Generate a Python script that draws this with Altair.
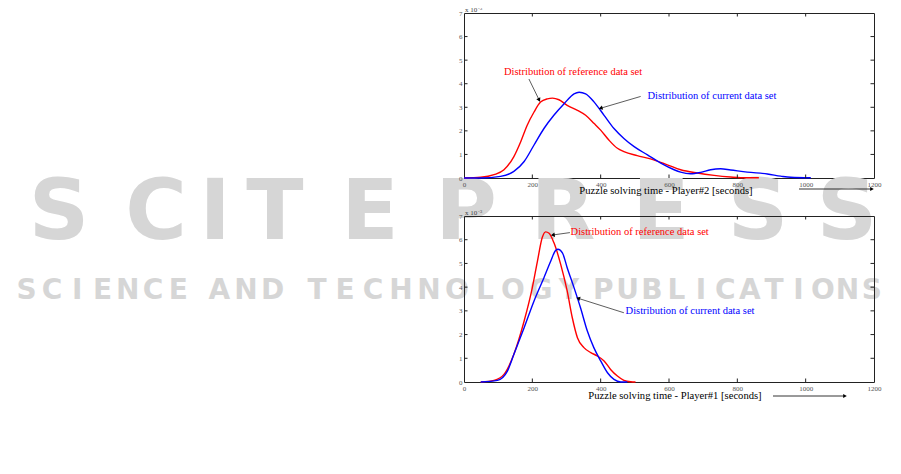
import math
import altair as alt
import pandas as pd

# ---------------- data ----------------
X_TICKS = [0, 200, 400, 600, 800, 1000, 1200]
Y_TICKS = [0, 1, 2, 3, 4, 5, 6, 7]
X_MAX = 1200
Y_MAX = 7

# Player#2 (top panel)
p2_ref_x = [0, 49, 88, 117, 146, 166, 185, 205, 224, 244, 259, 278, 302, 332, 356, 381, 400, 424,
            449, 468, 507, 546, 595, 634, 683, 732, 780, 810, 863]
p2_ref_y = [0.0, 0.03, 0.14, 0.35, 0.91, 1.54, 2.24, 2.8, 3.22, 3.36, 3.39, 3.32, 3.08, 2.87, 2.66,
            2.31, 2.03, 1.61, 1.26, 1.12, 0.95, 0.81, 0.56, 0.35, 0.21, 0.11, 0.04, 0.01, 0.01]
p2_cur_x = [0, 49, 107, 146, 176, 205, 234, 263, 293, 322, 337, 356, 381, 410, 439, 468, 498, 537,
            576, 615, 634, 663, 693, 722, 751, 780, 829, 888, 927, 956, 1015]
p2_cur_y = [0.0, 0.0, 0.07, 0.28, 0.7, 1.4, 2.1, 2.66, 3.15, 3.57, 3.64, 3.57, 3.22, 2.66, 2.1, 1.68,
            1.33, 0.98, 0.63, 0.35, 0.25, 0.18, 0.24, 0.35, 0.39, 0.34, 0.25, 0.17, 0.08, 0.03, 0.01]

# Player#1 (bottom panel)
p1_ref_x = [49, 88, 117, 146, 176, 200, 215, 229, 239, 249, 263, 283, 302, 317, 332, 351, 371, 390,
            410, 429, 449, 468, 488, 502]
p1_ref_y = [0.0, 0.07, 0.32, 1.17, 2.57, 3.98, 5.1, 6.09, 6.33, 6.27, 5.88, 4.96, 3.84, 2.71, 1.87,
            1.45, 1.24, 1.1, 0.89, 0.53, 0.25, 0.07, 0.01, 0.0]
p1_cur_x = [49, 98, 127, 146, 176, 205, 234, 254, 268, 275, 288, 302, 322, 341, 361, 380, 400, 420,
            439, 459, 478]
p1_cur_y = [0.0, 0.07, 0.46, 1.17, 2.29, 3.42, 4.4, 5.1, 5.55, 5.6, 5.45, 4.82, 3.98, 3.13, 2.15,
            1.45, 0.89, 0.39, 0.11, 0.0, 0.0]

LABELS = ["Distribution of reference data set", "Distribution of current data set"]
LABEL_COLORS = ["#ff0000", "#0000ff"]

p2_label_x = [117, 537]
p2_label_y = [4.48, 3.5]
p2_arrow_x = [190, 517]
p2_arrow_y = [4.2, 3.46]
p2_arrow_x2 = [220, 400]
p2_arrow_y2 = [3.31, 2.96]

p1_label_x = [312, 473]
p1_label_y = [6.34, 2.99]
p1_arrow_x = [310, 468]
p1_arrow_y = [6.30, 2.92]
p1_arrow_x2 = [260, 334]
p1_arrow_y2 = [6.2, 3.53]

TITLES = ["Puzzle solving time - Player#2 [seconds]", "Puzzle solving time - Player#1  [seconds]"]

WM_BIG = "SCITEPRESS"
WM_SMALL_WORDS = ["SCIENCE", "AND", "TECHNOLOGY", "PUBLICATIONS"]

# ---------------- layout ----------------
SERIF = "Liberation Serif"
FRAME = "#222222"
W = 410
H1 = 165          # top plot: page y 12 -> 177
H2 = 166          # bottom plot: page y 215 -> 381
PLOT_LEFT = 463
TOP1 = 12
GAP = 38
TL = 3.5          # inward tick length
WM_COLOR = "#d6d6d6"

WM_BIG_CX = [58, 155, 214, 274, 369, 465, 562, 660, 757, 846]
WM_BIG_Y = 213
WM_SMALL_SPANS = [(13, 190), (205, 285), (302, 582), (590, 883)]
WM_SMALL_Y = 290


def panel(ref_x, ref_y, cur_x, cur_y, lab_x, lab_y, ax, ay, ax2, ay2, H, title,
          title_x, title_y, arr_x0, arr_x1, arr_y, watermark=False):
    xs = alt.Scale(domain=[0, X_MAX], nice=False, zero=False)
    ys = alt.Scale(domain=[0, Y_MAX], nice=False, zero=False)
    x_axis = alt.Axis(values=X_TICKS, title=None, format="d", zindex=2)
    y_axis = alt.Axis(values=Y_TICKS, title=None, format="d", zindex=2)

    def X(f):
        return alt.X(f, type="quantitative", scale=xs, axis=x_axis)

    def Y(f):
        return alt.Y(f, type="quantitative", scale=ys, axis=y_axis)

    layers = []

    if watermark:
        def to_x(px):
            return (px - PLOT_LEFT) / W * X_MAX

        def to_y(py):
            return (TOP1 + H - py) / H * Y_MAX

        big = pd.DataFrame({"ch": list(WM_BIG),
                            "x": [to_x(c) for c in WM_BIG_CX],
                            "y": [to_y(WM_BIG_Y)] * len(WM_BIG)})
        rows = []
        for word, (a, b) in zip(WM_SMALL_WORDS, WM_SMALL_SPANS):
            step = (b - a) / len(word)
            for i, ch in enumerate(word):
                rows.append({"ch": ch, "x": to_x(a + (i + 0.5) * step), "y": to_y(WM_SMALL_Y)})
        small = pd.DataFrame(rows)
        layers.append(alt.Chart(big).mark_text(font="DejaVu Sans", fontWeight="bold", fontSize=84,
                                               color=WM_COLOR, align="center", baseline="middle")
                      .encode(x=X("x"), y=Y("y"), text="ch:N"))
        layers.append(alt.Chart(small).mark_text(font="DejaVu Sans", fontWeight="bold", fontSize=28,
                                                 color=WM_COLOR, align="center", baseline="middle")
                      .encode(x=X("x"), y=Y("y"), text="ch:N"))
        # invisible anchor fixing the page origin
        anchor = pd.DataFrame({"a": [0]})
        layers.append(alt.Chart(anchor).mark_rule(color="white", strokeWidth=1)
                      .encode(x=alt.value(-(PLOT_LEFT - 8)), x2=alt.value(-(PLOT_LEFT - 8)),
                              y=alt.value(-TOP1), y2=alt.value(-TOP1 + 1)))

    curves = pd.DataFrame({
        "x": ref_x + cur_x,
        "y": ref_y + cur_y,
        "series": ["reference"] * len(ref_x) + ["current"] * len(cur_x),
    })
    layers.append(alt.Chart(curves).mark_line(strokeWidth=1.4, interpolate="monotone").encode(
        x=X("x"), y=Y("y"),
        color=alt.Color("series:N", scale=alt.Scale(domain=["reference", "current"],
                                                    range=["#ff0000", "#0000ff"]), legend=None)))

    tx = pd.DataFrame({"t": X_TICKS[1:-1]})
    ty = pd.DataFrame({"t": Y_TICKS[1:-1]})
    layers.append(alt.Chart(tx).mark_rule(color=FRAME, strokeWidth=1)
                  .encode(x=X("t"), y=alt.value(H), y2=alt.value(H - TL)))
    layers.append(alt.Chart(tx).mark_rule(color=FRAME, strokeWidth=1)
                  .encode(x=X("t"), y=alt.value(0), y2=alt.value(TL)))
    layers.append(alt.Chart(ty).mark_rule(color=FRAME, strokeWidth=1)
                  .encode(y=Y("t"), x=alt.value(0), x2=alt.value(TL)))
    layers.append(alt.Chart(ty).mark_rule(color=FRAME, strokeWidth=1)
                  .encode(y=Y("t"), x=alt.value(W), x2=alt.value(W - TL)))

    ann = pd.DataFrame({"text": LABELS, "x": lab_x, "y": lab_y, "color": LABEL_COLORS})
    layers.append(alt.Chart(ann).mark_text(align="left", baseline="middle", font=SERIF, fontSize=10.5)
                  .encode(x=X("x"), y=Y("y"), text="text:N", color=alt.Color("color:N", scale=None)))

    sx = W / X_MAX
    sy = H / Y_MAX
    angles = []
    for x0, y0, x1, y1 in zip(ax, ay, ax2, ay2):
        dxs = (x1 - x0) * sx
        dys = -(y1 - y0) * sy
        angles.append(math.degrees(math.atan2(dxs, -dys)) % 360)
    arr = pd.DataFrame({"x": ax, "y": ay, "x2": ax2, "y2": ay2, "angle": angles})
    layers.append(alt.Chart(arr).mark_rule(color="#333333", strokeWidth=0.8)
                  .encode(x=X("x"), y=Y("y"), x2="x2:Q", y2="y2:Q"))
    layers.append(alt.Chart(arr).mark_point(shape="triangle-up", filled=True, color="#000000",
                                            size=20, opacity=1)
                  .encode(x=X("x2"), y=Y("y2"), angle=alt.Angle("angle:Q", scale=None)))

    tdf = pd.DataFrame({"text": [title]})
    layers.append(alt.Chart(tdf).mark_text(font=SERIF, fontSize=10.6, align="center", baseline="middle",
                                           color="#000000")
                  .encode(text="text:N", x=alt.value(title_x), y=alt.value(title_y)))
    layers.append(alt.Chart(tdf).mark_rule(color="#000000", strokeWidth=0.8)
                  .encode(x=alt.value(arr_x0), x2=alt.value(arr_x1 - 3), y=alt.value(arr_y)))
    layers.append(alt.Chart(tdf).mark_point(shape="triangle-right", filled=True, color="#000000",
                                            size=18, opacity=1)
                  .encode(x=alt.value(arr_x1 - 2), y=alt.value(arr_y)))

    layers.append(alt.Chart(tdf).mark_text(text="x 10", font=SERIF, fontSize=7, align="left",
                                           baseline="alphabetic", color="#444444")
                  .encode(x=alt.value(1), y=alt.value(-1)))
    layers.append(alt.Chart(tdf).mark_text(text="-3", font=SERIF, fontSize=5, align="left",
                                           baseline="alphabetic", color="#444444")
                  .encode(x=alt.value(14), y=alt.value(-3.5)))

    return alt.layer(*layers).properties(width=W, height=H)


top = panel(p2_ref_x, p2_ref_y, p2_cur_x, p2_cur_y, p2_label_x, p2_label_y,
            p2_arrow_x, p2_arrow_y, p2_arrow_x2, p2_arrow_y2, H1, TITLES[0],
            202, 178, 335, 410, 176, watermark=True)
bottom = panel(p1_ref_x, p1_ref_y, p1_cur_x, p1_cur_y, p1_label_x, p1_label_y,
               p1_arrow_x, p1_arrow_y, p1_arrow_x2, p1_arrow_y2, H2, TITLES[1],
               211, 180, 309, 383, 180)

chart = alt.vconcat(top, bottom, spacing=GAP, bounds="flush").properties(
    padding={"left": 0, "top": -8, "right": 0, "bottom": 0},
    background="white",
).configure_view(
    stroke=FRAME, strokeWidth=1
).configure_axis(
    labelFont=SERIF, labelFontSize=7, labelColor="#555555", ticks=False, tickSize=0,
    domain=False, grid=False, labelFlush=False, labelPadding=2, labelOverlap=False, zindex=2
)

chart.save("out.html", embed_options={"renderer": "svg", "actions": False})
